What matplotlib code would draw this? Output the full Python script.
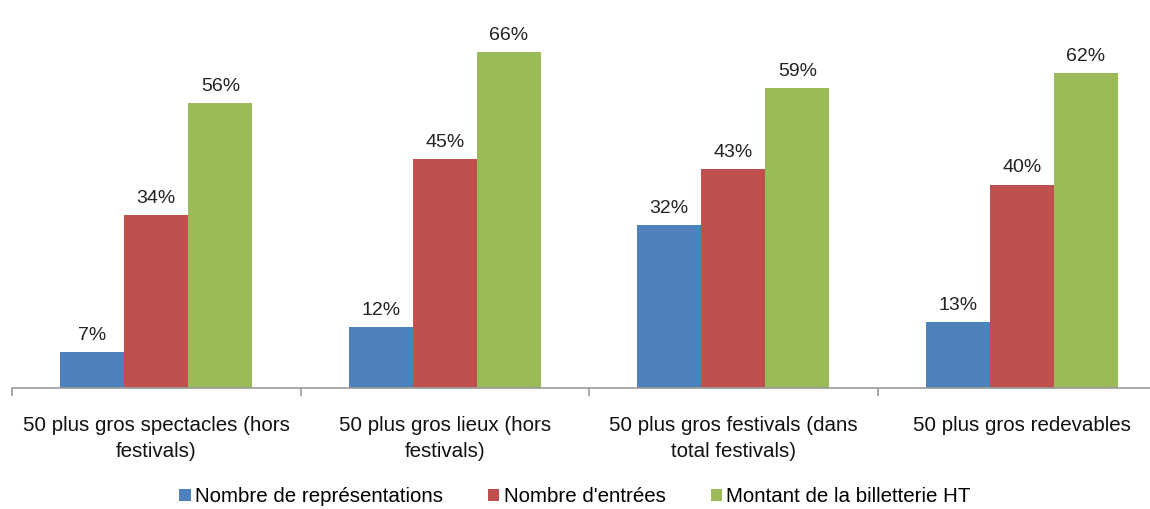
import matplotlib
matplotlib.use("Agg")
import matplotlib.pyplot as plt
import numpy as np

categories = ["50 plus gros spectacles (hors\nfestivals)",
              "50 plus gros lieux (hors\nfestivals)",
              "50 plus gros festivals (dans\ntotal festivals)",
              "50 plus gros redevables"]
series_names = ["Nombre de représentations", "Nombre d'entrées", "Montant de la billetterie HT"]
representations = [7, 12, 32, 13]
entrees = [34, 45, 43, 40]
billetterie = [56, 66, 59, 62]
colors = ["#4F81BD", "#C0504D", "#9BBB59"]

plt.rcParams["font.family"] = ["Liberation Sans", "DejaVu Sans"]

fig = plt.figure(figsize=(11.5, 5.09), dpi=100)
ax = fig.add_axes([12/1150, 121/509, 4*288.5/1150, 356/509])

x = np.arange(len(categories))
w = 0.222
for i, (vals, c, n) in enumerate(zip([representations, entrees, billetterie], colors, series_names)):
    pos = x + (i - 1) * w
    ax.bar(pos, vals, width=w, color=c, label=n)
    for p, v in zip(pos, vals):
        ax.text(p, v + 1.6, f"{v}%", ha="center", va="bottom", fontsize=14, color="#222222")

ax.set_xlim(-0.5, len(categories) - 0.5)
ax.set_ylim(0, 70)
ax.set_yticks([])
for s in ["top", "right", "left"]:
    ax.spines[s].set_visible(False)
ax.spines["bottom"].set_color("#999999")
ax.spines["bottom"].set_linewidth(1.2)
ax.set_xticks(np.arange(len(categories) + 1) - 0.5, minor=False)
ax.set_xticklabels([])
ax.tick_params(axis="x", which="major", length=6, color="#999999", width=1.2)
ax.set_xticks(x, minor=True)
ax.set_xticklabels(categories, minor=True, fontsize=14.8, color="#111111", linespacing=1.45)
ax.tick_params(axis="x", which="minor", length=0, pad=20)

handles, labels = ax.get_legend_handles_labels()
fig.legend(handles, labels, loc="center", bbox_to_anchor=(0.5, 12/509), ncol=3,
           frameon=False, fontsize=14.8, handlelength=0.55, handleheight=0.55,
           handletextpad=0.2, columnspacing=2.2)

fig.savefig("out.png", dpi=100)
